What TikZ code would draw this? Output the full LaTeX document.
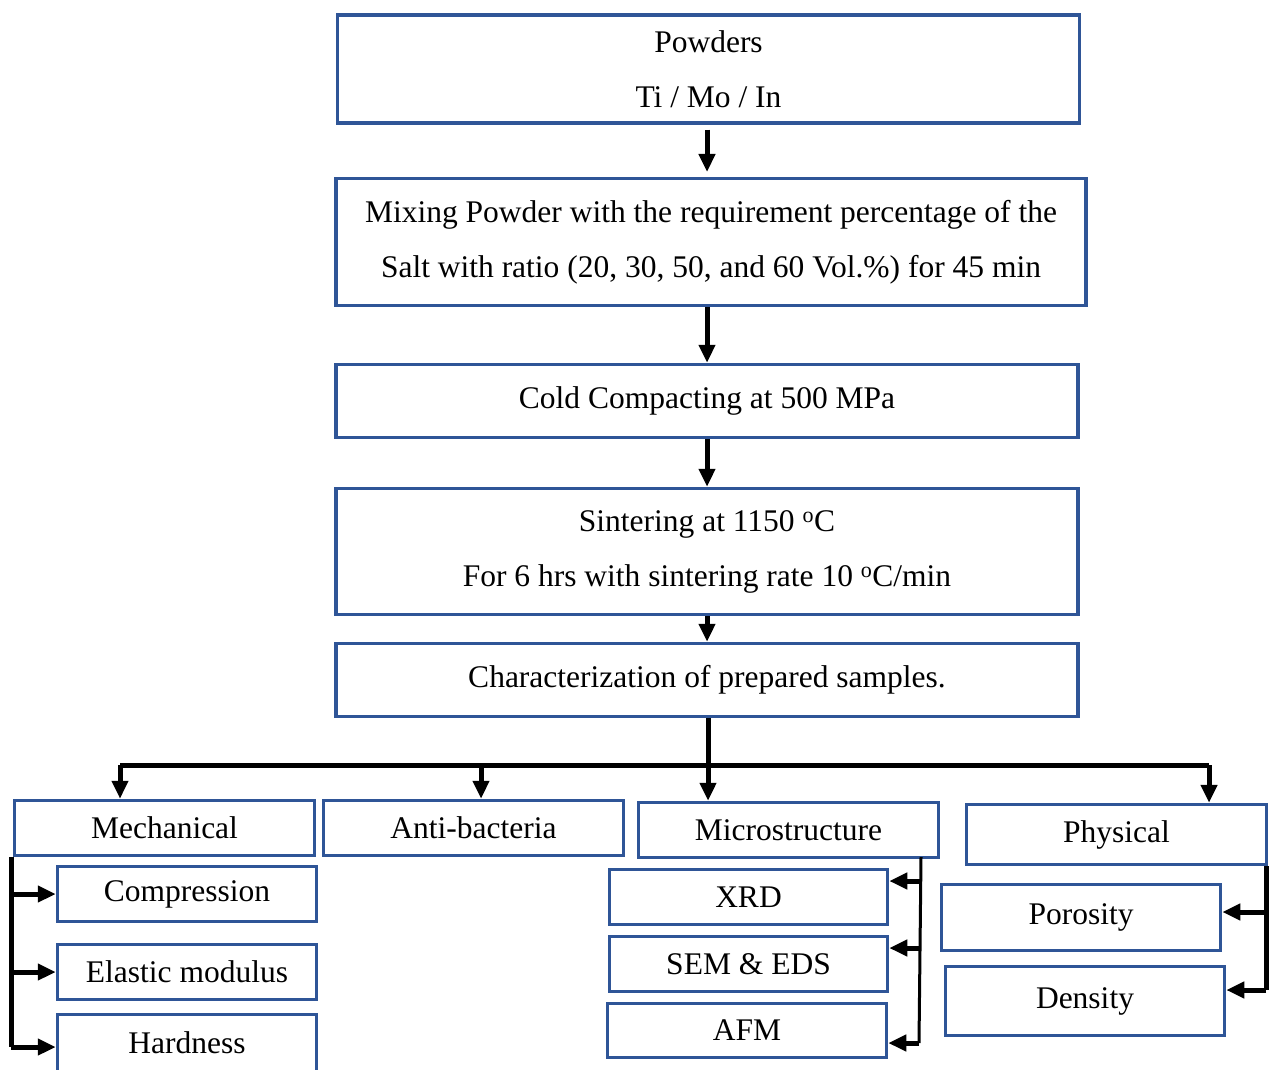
\documentclass[tikz,border=0pt]{standalone}
\usepackage{fontspec}
\setmainfont{Liberation Serif}
\usetikzlibrary{arrows.meta}
\definecolor{boxblue}{RGB}{47,85,151}

\begin{document}
\begin{tikzpicture}[x=1pt,y=-1pt,
	st/.style={
		rectangle,
		draw=boxblue,
		line width=3.5pt,
		inner sep=0pt,
		align=center,
		font=\fontsize{31.5}{55}\selectfont,
		},
	wide/.style={st, minimum width=742pt},
	sub/.style={st, minimum width=300pt, minimum height=55pt},
	leaf/.style={st, minimum width=279pt, minimum height=55pt},
	conn/.style={line width=5pt},
	arr/.style={conn, -{Triangle[length=18pt,width=16pt]}},
	]

	\useasboundingbox (0,0) rectangle (1269,1070);

	% main chain
	\node(powd)[wide, minimum height=108pt] at (708.5,69) {Powders\\Ti / Mo / In};
	\node(mix)[wide, minimum width=750pt, minimum height=127pt] at (711,242)
		{Mixing Powder with the requirement percentage of the\\Salt with ratio (20, 30, 50, and 60 Vol.\%) for 45 min};
	\node(cold)[wide, minimum height=73pt] at (707,401) {Cold Compacting at 500 MPa};
	\node(sint)[wide, minimum height=126pt] at (707,551.5)
		{Sintering at 1150 \textsuperscript{o}C\\For 6 hrs with sintering rate 10 \textsuperscript{o}C/min};
	\node(charac)[wide, minimum height=73pt] at (707,680) {Characterization of prepared samples.};

	\draw[arr, shorten <=5pt] (powd.south -| 707,0) -- (707,172);
	\draw[arr] (mix.south -| 707,0) -- (cold.north -| 707,0);
	\draw[arr] (cold.south -| 707,0) -- (sint.north -| 707,0);
	\draw[arr] (sint.south -| 707,0) -- (charac.north -| 707,0);

	% groups
	\node(mech)[sub] at (164.5,828) {Mechanical};
	\node(anti)[sub] at (473.5,828) {Anti-bacteria};
	\node(micro)[sub] at (788.5,830) {Microstructure};
	\node(phys)[sub, minimum height=60pt] at (1116.5,834.5) {Physical};

	\coordinate (busL) at (120,765);
	\coordinate (busA) at (481,765);
	\coordinate (busM) at (708,765);
	\coordinate (busR) at (1209,765);
	\draw[conn] (charac.south -| busM) -- (busM);
	\draw[conn] (busL) -- (busR);
	\draw[arr] (busL) -- (busL |- mech.north);
	\draw[arr] (busA) -- (busA |- anti.north);
	\draw[arr] (busM) -- (busM |- micro.north);
	\draw[arr] (busR) -- (busR |- phys.north);

	% mechanical tests
	\node(comp)[leaf, minimum width=259pt] at (187,894) {Compression};
	\node(elas)[leaf, minimum width=259pt] at (187,972) {Elastic modulus};
	\node(hard)[leaf, minimum width=259pt, minimum height=57pt] at (187,1043) {Hardness};

	\coordinate (mtop) at (11,857);
	\coordinate (mbot) at (11,1047);
	\draw[conn] (mtop) -- (mbot);
	\draw[arr] (mtop |- comp) -- (comp.west);
	\draw[arr] (mtop |- elas) -- (elas.west);
	\draw[arr] (mbot) -- (mbot -| hard.west);

	% microstructure tests
	\node(xrd)[leaf, minimum width=278pt] at (748.5,897) {XRD};
	\node(sem)[leaf, minimum width=278pt] at (748.5,964) {SEM \& EDS};
	\node(afm)[leaf, minimum height=54pt] at (747,1030.5) {AFM};

	\coordinate (utop) at (921,857);
	\coordinate (u1) at (920,881);
	\coordinate (u2) at (920,948);
	\coordinate (ubot) at (919,1043);
	\draw[line width=3pt] (utop) -- (ubot);
	\draw[arr] (u1) -- (u1 -| xrd.east);
	\draw[arr] (u2) -- (u2 -| sem.east);
	\draw[arr] (ubot) -- (ubot -| afm.east);

	% physical tests
	\node(poro)[leaf, minimum height=66pt] at (1081,917.5) {Porosity};
	\node(dens)[leaf, minimum height=69pt] at (1085,1001) {Density};

	\coordinate (ptop) at (1266,866);
	\coordinate (pbot) at (1266,990);
	\draw[conn] (ptop) -- (pbot);
	\draw[arr] (1266,912) -- (poro.east |- 0,912);
	\draw[arr] (pbot) -- (pbot -| dens.east);

\end{tikzpicture}
\end{document}
